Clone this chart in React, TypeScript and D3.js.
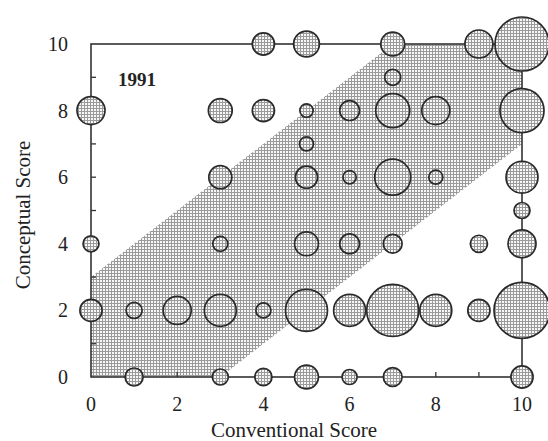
import React, { useEffect, useRef } from "react";
import * as d3 from "d3";

// bubble positions (conventional, conceptual) and relative counts
const convScores = [4, 5, 7, 9, 10, 7, 0, 3, 4, 5, 6, 7, 8, 10, 5, 3, 5, 6, 7, 8, 10, 10, 0, 3, 5, 6, 7, 9, 10, 0, 1, 2, 3, 4, 5, 6, 7, 8, 9, 10, 1, 3, 4, 5, 6, 7, 10];
const concScores = [10, 10, 10, 10, 10, 9, 8, 8, 8, 8, 8, 8, 8, 8, 7, 6, 6, 6, 6, 6, 6, 5, 4, 4, 4, 4, 4, 4, 4, 2, 2, 2, 2, 2, 2, 2, 2, 2, 2, 2, 0, 0, 0, 0, 0, 0, 0];
const counts = [2.5, 3.4, 2.9, 4, 14.9, 1.3, 4, 2.9, 2.5, 0.9, 2, 5.9, 4, 9.9, 1, 2.7, 2.5, 0.9, 6.6, 1, 5.2, 1.3, 1.3, 1.15, 2.9, 2, 1.8, 1.5, 4, 2.5, 1.3, 4, 5.2, 1.15, 9, 5.2, 13.8, 5.2, 2.5, 16, 1.65, 1.3, 1.5, 2.9, 1.15, 1.8, 2.5];

// shaded agreement band
const bandX = [0, 3, 10, 10, 7, 0];
const bandY = [0, 0, 7, 10, 10, 3];

const tickLabels = [0, 2, 4, 6, 8, 10];
const minorTicks = [1, 2, 3, 4, 5, 6, 7, 8, 9];

const W = 548;
const H = 441;

function Chart() {
  const ref = useRef<SVGSVGElement>(null);

  useEffect(() => {
    const svg = d3.select(ref.current);
    svg.selectAll("*").remove();

    const x = d3.scaleLinear().domain([0, 10]).range([91, 522]);
    const y = d3.scaleLinear().domain([0, 10]).range([377, 44]);
    const r = d3.scaleSqrt().domain([0, 16]).range([0, 28]);

    const defs = svg.append("defs");
    const pat = defs.append("pattern")
      .attr("id", "hatch")
      .attr("width", 3)
      .attr("height", 3)
      .attr("patternUnits", "userSpaceOnUse");
    pat.append("rect").attr("width", 3).attr("height", 3).attr("fill", "#f7f7f7");
    pat.append("path")
      .attr("d", "M0 0.5H3M0.5 0V3")
      .attr("stroke", "#9a9a9a")
      .attr("stroke-width", 1);

    // band
    const pts = bandX.map((d, i) => [x(d), y(bandY[i])] as [number, number]);
    svg.append("path")
      .attr("d", d3.line()(pts) + "Z")
      .attr("fill", "url(#hatch)")
      .attr("stroke", "none");

    // frame
    svg.append("rect")
      .attr("x", x(0))
      .attr("y", y(10))
      .attr("width", x(10) - x(0))
      .attr("height", y(0) - y(10))
      .attr("fill", "none")
      .attr("stroke", "#333")
      .attr("stroke-width", 1.6);

    // inward ticks
    svg.append("g").selectAll("line")
      .data(minorTicks)
      .join("line")
      .attr("x1", x(0))
      .attr("x2", x(0) + 5)
      .attr("y1", d => y(d))
      .attr("y2", d => y(d))
      .attr("stroke", "#333")
      .attr("stroke-width", 1.3);
    svg.append("g").selectAll("line")
      .data(minorTicks)
      .join("line")
      .attr("x1", d => x(d))
      .attr("x2", d => x(d))
      .attr("y1", y(0))
      .attr("y2", y(0) - 5)
      .attr("stroke", "#333")
      .attr("stroke-width", 1.3);

    const font = "'Liberation Serif', 'Times New Roman', serif";

    svg.append("g").selectAll("text")
      .data(tickLabels)
      .join("text")
      .attr("x", 68)
      .attr("y", d => y(d))
      .attr("dy", "0.35em")
      .attr("text-anchor", "end")
      .attr("font-family", font)
      .attr("font-size", 20)
      .attr("fill", "#222")
      .text(d => d);

    svg.append("g").selectAll("text")
      .data(tickLabels)
      .join("text")
      .attr("x", d => x(d))
      .attr("y", 411)
      .attr("text-anchor", "middle")
      .attr("font-family", font)
      .attr("font-size", 20)
      .attr("fill", "#222")
      .text(d => d);

    // bubbles
    svg.append("g").selectAll("circle")
      .data(counts.map((c, i) => ({ cx: convScores[i], cy: concScores[i], n: c })))
      .join("circle")
      .attr("cx", d => x(d.cx))
      .attr("cy", d => y(d.cy))
      .attr("r", d => r(d.n))
      .attr("fill", "url(#hatch)")
      .attr("stroke", "#2a2a2a")
      .attr("stroke-width", 1.7);

    svg.append("text")
      .attr("x", 118)
      .attr("y", 86)
      .attr("font-family", font)
      .attr("font-weight", "bold")
      .attr("font-size", 19)
      .attr("fill", "#222")
      .text("1991");

    svg.append("text")
      .attr("x", 294)
      .attr("y", 437)
      .attr("text-anchor", "middle")
      .attr("font-family", font)
      .attr("font-size", 21)
      .attr("fill", "#222")
      .text("Conventional Score");

    svg.append("text")
      .attr("transform", "translate(30,215) rotate(-90)")
      .attr("text-anchor", "middle")
      .attr("font-family", font)
      .attr("font-size", 21)
      .attr("fill", "#222")
      .text("Conceptual Score");
  }, []);

  return (
    <svg
      ref={ref}
      width={W}
      height={H}
      style={{ position: "absolute", left: 0, top: 0, background: "#fff" }}
    />
  );
}

export default function App() {
  return <Chart />;
}
